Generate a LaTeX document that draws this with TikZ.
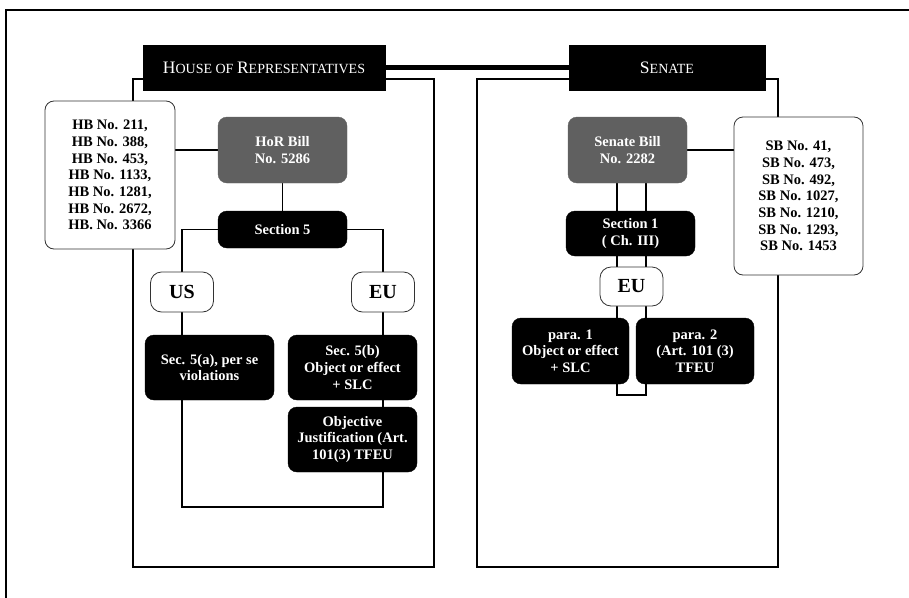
\documentclass[tikz,border=0pt]{standalone}
\usepackage{fontspec}
\setmainfont{Liberation Serif}
\usetikzlibrary{backgrounds,calc}
\definecolor{billgray}{HTML}{606060}
\newcommand{\LgSC}[1]{{\fontsize{17.5}{20}\selectfont #1}}
\newcommand{\SmSC}[1]{{\fontsize{14}{20}\selectfont #1}}
\begin{document}
\begin{tikzpicture}[x=1pt,y=-1pt,
  base/.style={rounded corners=9pt, align=center, inner sep=1pt, font=\fontsize{14.5}{16.7}\selectfont\bfseries},
  blackbox/.style={base, fill=black, draw=black, text=white},
  graybox/.style={base, fill=billgray, draw=billgray, text=white},
  whitebox/.style={base, fill=white, draw=black!80, line width=0.8pt},
  regionbox/.style={base, fill=white, draw=black!80, line width=0.8pt, rounded corners=11pt, font=\fontsize{20}{22}\selectfont\bfseries},
  header/.style={fill=black, draw=black, text=white, inner sep=0pt},
  conn/.style={line width=1.6pt},
  frame/.style={line width=2.2pt}
]
\useasboundingbox (0,0) rectangle (909,597);

% outer frame
\draw[line width=2.5pt, line cap=rect] (912,10) -- (6,10) -- (6,600);

% headers
\node[header, minimum width=242pt, minimum height=45pt] (hdrH) at (264,67.5)
  {\LgSC{H}\SmSC{OUSE OF }\LgSC{R}\SmSC{EPRESENTATIVES}};
\node[header, minimum width=196pt, minimum height=45pt] (hdrS) at (667,67.5)
  {\LgSC{S}\SmSC{ENATE}};

% House side nodes
\node[whitebox, minimum width=130pt, minimum height=148pt] (hblist) at (110,175)
  {HB No. 211,\\HB No. 388,\\HB No. 453,\\HB No. 1133,\\HB No. 1281,\\HB No. 2672,\\HB. No. 3366};
\node[graybox, minimum width=129pt, minimum height=66pt] (horbill) at (282.5,150)
  {HoR Bill\\No. 5286};
\node[blackbox, minimum width=129pt, minimum height=37pt] (sec5) at (282.5,229.5)
  {Section 5};
\node[regionbox, minimum width=63pt, minimum height=40pt] (us) at (182,292) {US};
\node[regionbox, minimum width=63pt, minimum height=40pt] (eu) at (383,292) {EU};
\node[blackbox, minimum width=129pt, minimum height=65pt] (sec5a) at (209.5,367.5)
  {Sec. 5(a), per se\\violations};
\node[blackbox, minimum width=129pt, minimum height=65pt] (sec5b) at (352.5,367.5)
  {Sec. 5(b)\\Object or effect\\+ SLC};
\node[blackbox, minimum width=129pt, minimum height=65pt] (oj) at (352.5,439.5)
  {Objective\\Justification (Art.\\101(3) TFEU};
\coordinate (botH) at (0,507);

% Senate side nodes
\node[graybox, minimum width=119pt, minimum height=66pt] (sbill) at (627.5,150)
  {Senate Bill\\No. 2282};
\node[whitebox, minimum width=129pt, minimum height=158pt] (sblist) at (798.5,196)
  {SB No. 41,\\SB No. 473,\\SB No. 492,\\SB No. 1027,\\SB No. 1210,\\SB No. 1293,\\SB No. 1453};
\node[blackbox, minimum width=129pt, minimum height=45pt] (sec1) at (630.5,233.5)
  {Section 1\\( Ch. III)};
\node[regionbox, minimum width=63pt, minimum height=39pt] (euS) at (631.5,286.5) {EU};
\node[blackbox, minimum width=117pt, minimum height=66pt] (para1) at (570.5,351)
  {para. 1\\Object or effect\\+ SLC};
\node[blackbox, minimum width=118pt, minimum height=66pt] (para2) at (695,351)
  {para. 2\\(Art. 101 (3)\\TFEU};
\coordinate (ch1) at (617,0);
\coordinate (ch2) at (646,0);
\coordinate (chb) at (0,395);

\begin{pgfonlayer}{background}
  % containers
  \draw[frame] (133,79) rectangle (434,567);
  \draw[frame] (477,79) rectangle (778,567);
  % header link
  \draw[line width=5pt] (hdrH.east) -- (hdrS.west);
  % House connectors
  \draw[conn] (hblist.east |- horbill.west) -- (horbill.west);
  \draw[conn] (horbill.south) -- (sec5.north);
  \draw[conn] (sec5.west) -| (us.north);
  \draw[conn] (sec5.east) -| (eu.north);
  \draw[conn] (us.south) -- (us.south |- sec5a.north);
  \draw[conn] (eu.south) -- (eu.south |- sec5b.north);
  \draw[conn] (eu.south |- sec5b.south) -- (eu.south |- oj.north);
  \draw[conn] (us.south |- sec5a.south) -- (us.south |- botH)
              -- (eu.south |- botH) -- (eu.south |- oj.south);
  % Senate connectors
  \draw[conn] (sbill.east) -- (sblist.west |- sbill.east);
  \draw[conn] (ch1 |- sbill.center) -- (ch1 |- chb) -- (ch2 |- chb) -- (ch2 |- sbill.center);
\end{pgfonlayer}
\end{tikzpicture}
\end{document}
